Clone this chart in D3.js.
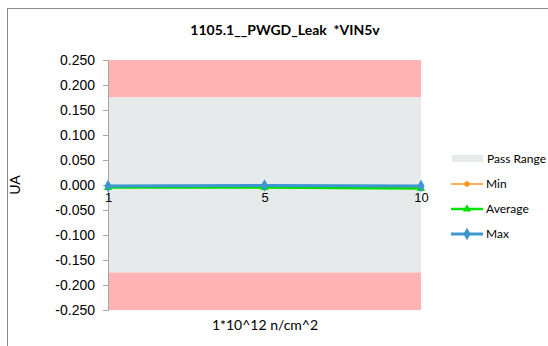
<!DOCTYPE html>
<html>
<head>
<meta charset="utf-8">
<script src="https://cdn.jsdelivr.net/npm/d3@7"></script>
<style>
  html, body { margin: 0; padding: 0; background: #fff; }
  svg { display: block; font-family: Lato, "Open Sans", sans-serif; }
</style>
</head>
<body>
<svg id="chart" width="548" height="346"></svg>
<script>
// Fluence steps (category axis)
const categories = ["1", "5", "10"];
// Measured leakage per fluence step (UA)
const minValues = [-0.004, -0.004, -0.006];
const avgValues = [-0.005, -0.005, -0.007];
const maxValues = [-0.002, -0.001, -0.002];
// Pass limits and axis ticks
const passLow = -0.175;
const passHigh = 0.175;
const yTicks = [0.25, 0.2, 0.15, 0.1, 0.05, 0, -0.05, -0.1, -0.15, -0.2, -0.25];

const svg = d3.select("#chart");
const plot = { left: 108, right: 421, top: 60, bottom: 310 };

// Outer chart frame
svg.append("rect")
  .attr("x", 7.5).attr("y", 8.5)
  .attr("width", 560).attr("height", 360)
  .attr("fill", "#fff").attr("stroke", "#8c8c8c").attr("stroke-width", 1);

const x = d3.scalePoint().domain(categories).range([plot.left, plot.right]);
const y = d3.scaleLinear().domain([-0.25, 0.25]).range([plot.bottom, plot.top]);

// Background bands: fail regions and pass range
svg.append("rect")
  .attr("x", plot.left).attr("width", plot.right - plot.left)
  .attr("y", y(0.25)).attr("height", y(passHigh) - y(0.25))
  .attr("fill", "#ffb3b3");
svg.append("rect")
  .attr("x", plot.left).attr("width", plot.right - plot.left)
  .attr("y", y(passHigh)).attr("height", y(passLow) - y(passHigh))
  .attr("fill", "#e6eaea");
svg.append("rect")
  .attr("x", plot.left).attr("width", plot.right - plot.left)
  .attr("y", y(passLow)).attr("height", y(-0.25) - y(passLow))
  .attr("fill", "#ffb3b3");

// Y axis
const yAxis = svg.append("g")
  .attr("transform", `translate(${plot.left},0)`)
  .call(d3.axisLeft(y).tickValues(yTicks).tickFormat(d3.format(".3f")).tickSize(5).tickPadding(8));
yAxis.select(".domain").attr("stroke", "#a6a6a6");
yAxis.selectAll(".tick line").attr("stroke", "#a6a6a6");
yAxis.selectAll(".tick text")
  .attr("fill", "#000").style("font-size", "14px")
  .text(d => d3.format(".3f")(d).replace("−", "-"));

// X axis crossing at zero
const xAxis = svg.append("g")
  .attr("transform", `translate(0,${y(0)})`)
  .call(d3.axisBottom(x).tickSize(0).tickPadding(8));
xAxis.select(".domain").attr("stroke", "#a6a6a6");
xAxis.selectAll(".tick text").attr("fill", "#000").style("font-size", "13px");

// Series
const series = [
  { name: "Min", values: minValues, color: "#f7941d", width: 1.5, symbol: d3.symbolCircle, size: 22 },
  { name: "Average", values: avgValues, color: "#00e000", width: 2.5, symbol: d3.symbolTriangle, size: 30 },
  { name: "Max", values: maxValues, color: "#3b97cf", width: 3, symbol: d3.symbolDiamond, size: 45 }
];

const line = d3.line().x((d, i) => x(categories[i])).y(d => y(d));
series.forEach(s => {
  svg.append("path")
    .datum(s.values)
    .attr("d", line)
    .attr("fill", "none")
    .attr("stroke", s.color)
    .attr("stroke-width", s.width);
  svg.selectAll(null)
    .data(s.values)
    .enter().append("path")
    .attr("transform", (d, i) => `translate(${x(categories[i])},${y(d)})`)
    .attr("d", d3.symbol().type(s.symbol).size(s.size))
    .attr("fill", s.color);
});

// Title and axis titles
svg.append("text")
  .attr("x", 285).attr("y", 35)
  .attr("text-anchor", "middle")
  .style("font-size", "14px").style("font-weight", "bold")
  .style("white-space", "pre")
  .text("1105.1__PWGD_Leak  *VIN5v");
svg.append("text")
  .attr("transform", `translate(20,${y(0)}) rotate(-90)`)
  .attr("text-anchor", "middle")
  .style("font-size", "14px")
  .text("UA");
svg.append("text")
  .attr("x", 265).attr("y", 330)
  .attr("text-anchor", "middle")
  .style("font-size", "14px")
  .text("1*10^12 n/cm^2");

// Legend
const legend = svg.append("g");
legend.append("rect")
  .attr("x", 452).attr("y", 155).attr("width", 31).attr("height", 7)
  .attr("fill", "#e6eaea");
legend.append("text")
  .attr("x", 487).attr("y", 163)
  .style("font-size", "12px")
  .text("Pass Range");
series.forEach((s, i) => {
  const ly = 184 + i * 25;
  legend.append("line")
    .attr("x1", 451).attr("x2", 483).attr("y1", ly).attr("y2", ly)
    .attr("stroke", s.color).attr("stroke-width", s.width);
  legend.append("path")
    .attr("transform", `translate(467,${ly})`)
    .attr("d", d3.symbol().type(s.symbol).size(s.size))
    .attr("fill", s.color);
  legend.append("text")
    .attr("x", 486).attr("y", ly + 4)
    .style("font-size", "12px")
    .text(s.name);
});
</script>
</body>
</html>
